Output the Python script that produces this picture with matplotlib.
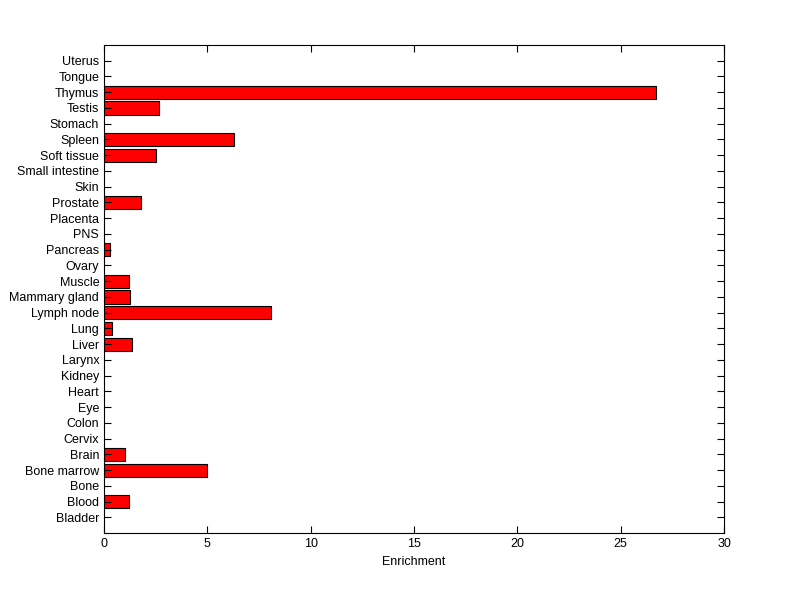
import matplotlib
matplotlib.use('Agg')
import matplotlib.pyplot as plt
import numpy as np

# tissues, bottom to top
tissues = ['Bladder', 'Blood', 'Bone', 'Bone marrow', 'Brain', 'Cervix', 'Colon',
           'Eye', 'Heart', 'Kidney', 'Larynx', 'Liver', 'Lung', 'Lymph node',
           'Mammary gland', 'Muscle', 'Ovary', 'Pancreas', 'PNS', 'Placenta',
           'Prostate', 'Skin', 'Small intestine', 'Soft tissue', 'Spleen',
           'Stomach', 'Testis', 'Thymus', 'Tongue', 'Uterus']
enrichment = [0, 1.21, 0, 5.0, 1.02, 0, 0,
              0, 0, 0, 0, 1.37, 0.41, 8.10,
              1.28, 1.21, 0, 0.29, 0, 0,
              1.81, 0, 0, 2.52, 6.29,
              0, 2.66, 26.73, 0, 0]

plt.rcParams['font.family'] = ['Liberation Sans', 'DejaVu Sans']

fig = plt.figure(figsize=(8, 5.99), dpi=100)
ax = fig.add_axes([0.13, 0.11, 0.775, 0.815])

pos = np.arange(1, len(tissues) + 1)
nz = [i for i, v in enumerate(enrichment) if v > 0]
ax.barh(pos[nz], [enrichment[i] for i in nz], height=0.84, color='#ff0000',
        edgecolor='black', linewidth=0.8)

ax.set_xlim(0, 30)
ax.set_ylim(0, 31)
ax.set_yticks(pos)
ax.set_yticklabels(tissues, fontsize=9)
ax.set_xticks(np.arange(0, 31, 5))
ax.tick_params(axis='x', labelsize=9)
ax.tick_params(direction='in', length=5, width=0.8, top=True, right=True)
ax.set_xlabel('Enrichment', fontsize=9)
for s in ax.spines.values():
    s.set_linewidth(0.8)

plt.savefig('out.png', dpi=100)
